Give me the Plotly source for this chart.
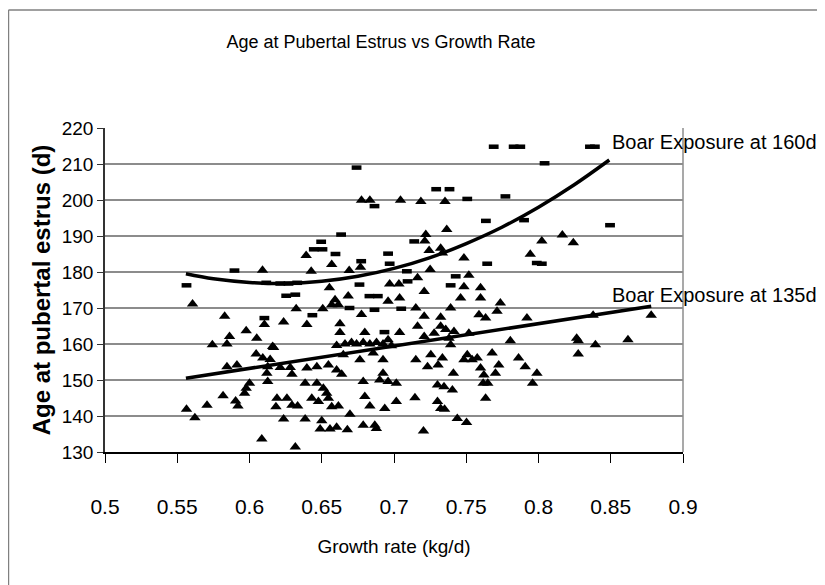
import plotly.graph_objects as go

# ---- data ----
# Boar exposure at 135 d (triangles)
x_135 = [0.5606, 0.5828, 0.5977, 0.5862, 0.5844, 0.5743, 0.605, 0.6103, 0.616, 0.6046,
         0.6092, 0.6143, 0.5844, 0.5913, 0.6126, 0.612, 0.6126, 0.600, 0.5977, 0.5966,
         0.5817, 0.5904, 0.592, 0.5706, 0.5564, 0.5622, 0.6183, 0.6085, 0.609,
         0.6775, 0.6833, 0.7045, 0.6392, 0.6569, 0.6427, 0.669, 0.6768, 0.697, 0.7034,
         0.6553, 0.6683, 0.6592, 0.6615, 0.6569, 0.6507, 0.6323, 0.7039, 0.6959, 0.6775,
         0.6236, 0.6397, 0.6626, 0.6626, 0.6798, 0.7039, 0.6959, 0.6603, 0.6661, 0.6706,
         0.6741, 0.6787, 0.6833, 0.6879, 0.6924, 0.6982, 0.6167, 0.6649, 0.6856, 0.6764,
         0.6924, 0.6213, 0.6282, 0.6397, 0.6466, 0.6546, 0.6603, 0.6638, 0.6294, 0.6787,
         0.6924, 0.6901, 0.6959, 0.7016, 0.6385, 0.6466, 0.6511, 0.6534, 0.6190, 0.6259,
         0.6431, 0.6477, 0.6546, 0.6569, 0.6294, 0.6333, 0.6615, 0.6798, 0.6833, 0.6936,
         0.7016, 0.6695, 0.6236, 0.6385, 0.6500, 0.6489, 0.6557, 0.6603, 0.6677, 0.6787,
         0.6867, 0.6878, 0.6317,
         0.7186, 0.7353, 0.7365, 0.7220, 0.7213, 0.7243, 0.7323, 0.7335, 0.7484, 0.725,
         0.7518, 0.7163, 0.7209, 0.7599, 0.7484, 0.7599, 0.7461, 0.7736, 0.7713, 0.7151,
         0.7392, 0.7209, 0.7323, 0.7588, 0.7634, 0.7920, 0.7163, 0.7278, 0.7209, 0.7323,
         0.7358, 0.7381, 0.7392, 0.7415, 0.7518, 0.7805, 0.7151, 0.7255, 0.7232, 0.7305,
         0.7335, 0.7411, 0.7484, 0.7507, 0.7541, 0.7576, 0.7599, 0.7622, 0.7679, 0.7725,
         0.7702, 0.7862, 0.7908, 0.7617, 0.7649, 0.7301, 0.7346, 0.7404, 0.7145, 0.7634,
         0.7301, 0.7323, 0.735, 0.7438, 0.7502, 0.7204,
         0.8023, 0.8165, 0.8241, 0.7943, 0.8378, 0.878, 0.8264, 0.8275, 0.8394, 0.8619,
         0.8275, 0.7989, 0.7959]
y_135 = [171.1, 167.7, 163.7, 162.1, 160.0, 159.8, 161.6, 165.4, 159.3, 157.2,
         156.1, 155.7, 153.7, 154.2, 153.7, 151.9, 149.6, 149.1, 147.7, 146.3,
         145.6, 144.2, 142.8, 143.0, 141.9, 139.5, 142.6, 133.6, 180.5,
         199.9, 199.9, 199.9, 184.6, 182.1, 180.2, 180.4, 181.3, 176.7, 176.7,
         175.6, 173.3, 172.3, 170.9, 170.9, 169.8, 169.8, 172.8, 171.9, 168.2,
         166.1, 165.4, 165.6, 163.2, 163.2, 163.2, 161.2, 159.6, 160.0, 160.4,
         160.0, 160.4, 160.0, 160.4, 160.0, 159.5, 159.0, 157.0, 157.5, 155.6,
         155.6, 153.5, 153.5, 153.3, 153.7, 154.2, 152.8, 151.6, 151.6, 149.6,
         151.9, 150.0, 149.6, 149.1, 149.1, 149.1, 147.7, 146.3, 144.9, 144.9,
         144.9, 144.0, 144.9, 142.6, 143.0, 142.8, 142.8, 145.4, 142.8, 142.1,
         144.0, 140.5, 139.2, 139.2, 138.7, 136.4, 136.4, 136.9, 136.2, 137.4,
         137.4, 136.5, 131.4,
         199.6, 199.6, 191.8, 190.4, 188.6, 186.0, 186.6, 185.3, 183.9, 180.7,
         179.1, 178.4, 174.6, 175.6, 175.9, 172.8, 172.8, 171.4, 169.1, 170.0,
         170.0, 167.7, 167.4, 168.1, 167.2, 167.2, 164.9, 163.0, 162.1, 164.9,
         164.0, 161.6, 159.8, 163.5, 163.0, 160.9, 155.6, 157.0, 153.7, 154.2,
         156.1, 151.9, 155.6, 157.0, 155.6, 156.1, 153.3, 151.4, 157.5, 154.2,
         151.9, 156.1, 153.7, 149.1, 149.1, 148.6, 148.1, 147.2, 145.1, 144.9,
         144.0, 142.1, 141.9, 139.3, 138.2, 135.8,
         188.6, 190.3, 188.1, 184.9, 168.0, 168.0, 161.6, 160.9, 159.8, 161.2,
         157.2, 151.9, 149.1]

# Boar exposure at 160 d (dashes)
x_160 = [0.5564, 0.5896, 0.6103, 0.6116, 0.6213, 0.627, 0.633, 0.6254, 0.6317, 0.6435,
         0.6741, 0.6865, 0.6496, 0.6634, 0.6445, 0.6505, 0.6595, 0.6773, 0.6959, 0.697,
         0.6761, 0.683, 0.6888, 0.6692, 0.6865, 0.6934, 0.705,
         0.769, 0.7828, 0.7874, 0.7292, 0.7384, 0.7507, 0.7771, 0.7636, 0.714, 0.7645,
         0.7089, 0.7427, 0.7392, 0.7094, 0.79,
         0.8356, 0.839, 0.8042, 0.8495, 0.7988, 0.8023]
y_160 = [176.3, 180.4, 167.2, 177.0, 176.8, 176.8, 177.0, 173.4, 173.7, 168.0,
         209.0, 198.3, 188.4, 190.4, 186.3, 186.3, 185.0, 183.0, 185.1, 182.3,
         176.5, 173.3, 173.3, 170.0, 169.5, 163.3, 169.8,
         214.8, 214.8, 214.8, 203.0, 203.0, 200.3, 201.0, 194.2, 188.5, 182.3,
         180.2, 178.8, 176.3, 177.4, 194.4,
         214.8, 214.8, 210.2, 193.0, 182.5, 182.3]

# Trend lines as drawn on the chart
trend135_x = [0.556, 0.878]
trend135_y = [150.5, 170.5]
trend160_x = [0.556, 0.575, 0.600, 0.625, 0.650, 0.675, 0.700, 0.725, 0.750, 0.775, 0.800, 0.825, 0.849]
trend160_y = [179.5, 178.1, 177.1, 176.8, 177.4, 178.8, 181.0, 184.0, 187.9, 192.5, 198.0, 204.3, 211.1]

x_ticks = [0.5, 0.55, 0.6, 0.65, 0.7, 0.75, 0.8, 0.85, 0.9]
x_ticklabels = ["0.5", "0.55", "0.6", "0.65", "0.7", "0.75", "0.8", "0.85", "0.9"]
y_ticks = [130, 140, 150, 160, 170, 180, 190, 200, 210, 220]

title_text = "Age at Pubertal Estrus vs Growth Rate"
x_title = "Growth rate (kg/d)"
y_title = "Age at pubertal estrus (d)"
label_160 = "Boar Exposure at 160d"
label_135 = "Boar Exposure at 135d"

FONT = "Liberation Sans, Arial, sans-serif"

fig = go.Figure()
fig.add_trace(go.Scatter(x=x_135, y=y_135, mode="markers", name="135d",
                         marker=dict(symbol="triangle-up", size=10, color="black")))
fig.add_trace(go.Scatter(x=x_160, y=y_160, mode="markers", name="160d",
                         marker=dict(symbol="line-ew", size=7,
                                     line=dict(width=4.5, color="black"))))
fig.add_trace(go.Scatter(x=trend135_x, y=trend135_y, mode="lines",
                         line=dict(color="black", width=3.5)))
fig.add_trace(go.Scatter(x=trend160_x, y=trend160_y, mode="lines", line_shape="spline",
                         line=dict(color="black", width=3.5)))

fig.add_annotation(x=0.8495, y=216.1, text=label_160, showarrow=False,
                   xanchor="left", yanchor="middle", font=dict(family=FONT, size=20, color="black"))
fig.add_annotation(x=0.8495, y=173.7, text=label_135, showarrow=False,
                   xanchor="left", yanchor="middle", font=dict(family=FONT, size=20, color="black"))

# chart area frame (left & top visible) and plot right border
fig.add_shape(type="line", xref="paper", yref="paper", x0=-0.1670, x1=1.3, y0=1.364, y1=1.364,
              line=dict(color="#808080", width=1.5))
fig.add_shape(type="line", xref="paper", yref="paper", x0=-0.1670, x1=-0.1670, y0=1.364, y1=-0.45,
              line=dict(color="#808080", width=1.5))
fig.add_shape(type="line", xref="paper", yref="paper", x0=1, x1=1, y0=0, y1=1,
              line=dict(color="#8c8c8c", width=1.5))

fig.update_layout(
    width=817, height=577,
    margin=dict(l=97, r=142, t=120, b=133),
    paper_bgcolor="white", plot_bgcolor="white",
    showlegend=False,
    title=dict(text=title_text, x=0.4565, xanchor="center", y=0.941, yanchor="middle",
               font=dict(family=FONT, size=18, color="black")),
    xaxis=dict(range=[0.5, 0.9], tickvals=x_ticks, ticktext=x_ticklabels,
               showgrid=False, zeroline=False,
               showline=True, linecolor="black", linewidth=1.5,
               ticks="outside", ticklen=9, tickwidth=1.3, tickcolor="black",
               ticklabelstandoff=26,
               tickfont=dict(family=FONT, size=21, color="black"),
               title=dict(text=x_title, standoff=23, font=dict(family=FONT, size=19, color="black"))),
    yaxis=dict(range=[130, 220], tickvals=y_ticks,
               showgrid=True, gridcolor="#8c8c8c", gridwidth=1.5, zeroline=False,
               showline=True, linecolor="#333333", linewidth=1.5,
               ticks="outside", ticklen=6, tickwidth=1.3, tickcolor="#333333",
               tickfont=dict(family=FONT, size=19, color="black"),
               title=dict(text=y_title, standoff=4, font=dict(family=FONT, size=24, color="black", weight="bold"))),
)

fig.write_html("out.html")
